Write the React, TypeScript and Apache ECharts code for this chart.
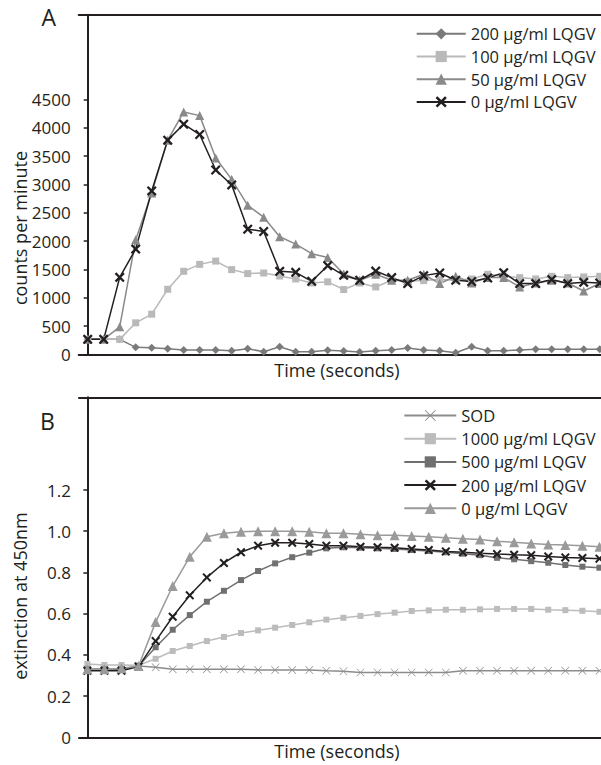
import React, { useEffect, useRef } from "react";
import * as echarts from "echarts";

// Panel A: counts per minute, 33 time points
const timeA = Array.from({ length: 33 }, (_, i) => i);
const a200 = [264,264,264,123,116,99,76,76,76,63,99,46,134,46,46,70,59,40,63,76,111,76,63,28,134,63,63,76,88,88,88,88,88];
const a100 = [264,264,264,556,709,1149,1466,1589,1647,1496,1426,1436,1383,1331,1260,1280,1144,1260,1190,1308,1290,1302,1320,1308,1331,1413,1378,1355,1331,1378,1355,1367,1378];
const a50 = [264,264,486,2024,2851,3784,4282,4217,3467,3091,2633,2422,2077,1947,1778,1710,1420,1308,1413,1308,1308,1413,1250,1378,1260,1355,1355,1190,1260,1308,1260,1119,1250];
const a0 = [264,264,1360,1859,2886,3784,4066,3883,3256,2992,2211,2170,1466,1449,1290,1566,1396,1308,1471,1355,1250,1390,1436,1308,1285,1348,1443,1250,1250,1320,1250,1272,1260];
const ticksA = [0,500,1000,1500,2000,2500,3000,3500,4000,4500];
const maxLabelA = 4500;

// Panel B: extinction at 450nm, 31 time points
const timeB = Array.from({ length: 31 }, (_, i) => i);
const bSOD = [0.33,0.33,0.33,0.346,0.34,0.33,0.33,0.33,0.33,0.33,0.327,0.327,0.327,0.327,0.323,0.32,0.315,0.315,0.315,0.315,0.315,0.315,0.323,0.323,0.323,0.323,0.323,0.323,0.323,0.323,0.323];
const b1000 = [0.356,0.351,0.351,0.35,0.381,0.419,0.443,0.467,0.487,0.506,0.519,0.532,0.545,0.558,0.571,0.58,0.589,0.598,0.605,0.613,0.616,0.619,0.619,0.621,0.623,0.623,0.623,0.619,0.617,0.614,0.609];
const b500 = [0.33,0.33,0.33,0.346,0.437,0.522,0.593,0.658,0.711,0.763,0.807,0.844,0.874,0.896,0.917,0.922,0.92,0.917,0.914,0.909,0.904,0.898,0.891,0.884,0.871,0.864,0.855,0.847,0.836,0.828,0.823];
const b200 = [0.323,0.323,0.323,0.343,0.467,0.585,0.689,0.776,0.846,0.898,0.93,0.944,0.944,0.938,0.93,0.93,0.925,0.922,0.92,0.914,0.909,0.902,0.898,0.893,0.889,0.886,0.884,0.878,0.873,0.87,0.867];
const b0 = [0.33,0.33,0.335,0.346,0.559,0.734,0.876,0.973,0.99,0.998,1.0,1.0,1.0,0.998,0.99,0.99,0.985,0.98,0.98,0.977,0.973,0.968,0.964,0.96,0.952,0.946,0.941,0.936,0.933,0.93,0.925];
const ticksB = [0, 0.2, 0.4, 0.6, 0.8, 1.0, 1.2];
const maxLabelB = 1.2;

const namesA = ["200 μg/ml LQGV", "100 μg/ml LQGV", "50 μg/ml LQGV", "0 μg/ml LQGV"];
// trailing spaces keep panel B's legend entries distinct from panel A's; trimmed for display
const namesB = ["SOD", "1000 μg/ml LQGV", "500 μg/ml LQGV", "200 μg/ml LQGV ", "0 μg/ml LQGV "];

const FONT = "Open Sans";
const INK = "#231f20";
const X_THICK = "path://M0,1.6L1.6,0L5,3.4L8.4,0L10,1.6L6.6,5L10,8.4L8.4,10L5,6.6L1.6,10L0,8.4L3.4,5Z";
const X_THIN = "path://M0,0.6L0.6,0L5,4.4L9.4,0L10,0.6L5.6,5L10,9.4L9.4,10L5,5.6L0.6,10L0,9.4L4.4,5Z";

function pairs(xs: number[], ys: number[]) {
  return xs.map((x, i) => [x, ys[i]]);
}

export default function App() {
  const ref = useRef<HTMLDivElement>(null);
  useEffect(() => {
    document.body.style.margin = "0";
    const chart = echarts.init(ref.current!, null, { renderer: "svg" });
    const axisLine = { show: true, lineStyle: { color: INK, width: 2 } };
    const mkLine = (
      name: string, xi: number, yi: number, data: number[][], color: string,
      symbol: string, size: number, width = 1.5
    ) => ({
      type: "line", name, xAxisIndex: xi, yAxisIndex: yi, data, symbol, symbolSize: size,
      showSymbol: true,
      lineStyle: { color, width }, itemStyle: { color, borderWidth: 0 },
      emphasis: { disabled: true },
    });
    const txt = (text: string, x: number, y: number, size: number, rot = 0) => ({
      type: "text", x, y, rotation: rot,
      style: { text, fontSize: size, fontFamily: FONT, fill: INK, textAlign: "center", textVerticalAlign: "middle" },
    });
    chart.setOption({
      animation: false,
      textStyle: { fontFamily: FONT, color: INK, fontSize: 17 },
      grid: [
        { left: 78.7, top: 14.7, width: 522.3, height: 339.6, outerBoundsMode: "none", containLabel: false },
        { left: 79, top: 397.3, width: 522, height: 340, outerBoundsMode: "none", containLabel: false },
      ],
      xAxis: [
        { type: "value", gridIndex: 0, min: -0.5625, max: 32.08, axisLine, axisTick: { show: false }, axisLabel: { show: false }, splitLine: { show: false } },
        { type: "value", gridIndex: 0, position: "top", min: -0.5625, max: 32.08, axisLine, axisTick: { show: false }, axisLabel: { show: false }, splitLine: { show: false } },
        { type: "value", gridIndex: 1, min: -0.49, max: 30.09, axisLine, axisTick: { show: false }, axisLabel: { show: false }, splitLine: { show: false } },
        { type: "value", gridIndex: 1, position: "top", min: -0.49, max: 30.09, axisLine, axisTick: { show: false }, axisLabel: { show: false }, splitLine: { show: false } },
      ],
      yAxis: [
        {
          type: "value", gridIndex: 0, min: 0, max: 6000, interval: 500, axisLine,
          axisTick: { show: true, length: 4, lineStyle: { color: INK, width: 1.5 }, customValues: ticksA },
          axisLabel: {
            show: true, fontSize: 17, color: INK, fontFamily: FONT, margin: 8,
            formatter: (v: number) => (v <= maxLabelA ? String(v) : ""),
          },
          splitLine: { show: false },
        },
        {
          type: "value", gridIndex: 1, min: 0, max: 1.65, interval: 0.2, axisLine,
          axisTick: { show: true, length: 4, lineStyle: { color: INK, width: 1.5 }, customValues: ticksB },
          axisLabel: {
            show: true, color: INK, margin: 8,
            formatter: (v: number) => (v > maxLabelB + 1e-9 ? "" : "{t|" + (v === 0 ? "0" : v.toFixed(1)) + "}"),
            rich: { t: { fontSize: 17, fontFamily: FONT, color: INK } },
          },
          splitLine: { show: false },
        },
      ],
      legend: [
        {
          data: namesA, orient: "vertical", left: 410.7, top: 20.3, itemWidth: 49, itemHeight: 14, itemGap: 5.7,
          textStyle: { fontSize: 16.5, lineHeight: 16, color: INK, fontFamily: FONT }, selectedMode: false,
        },
        {
          data: namesB, orient: "vertical", left: 398.3, top: 402, itemWidth: 52, itemHeight: 14, itemGap: 6.2,
          textStyle: { fontSize: 16.5, lineHeight: 16, color: INK, fontFamily: FONT }, selectedMode: false,
          formatter: (n: string) => n.trim(),
        },
      ],
      series: [
        mkLine(namesA[0], 0, 0, pairs(timeA, a200), "#7a7a7a", "diamond", 8),
        mkLine(namesA[1], 0, 0, pairs(timeA, a100), "#b9b9b9", "rect", 7),
        mkLine(namesA[2], 0, 0, pairs(timeA, a50), "#8a8a8a", "triangle", 9),
        mkLine(namesA[3], 0, 0, pairs(timeA, a0), "#231f20", X_THICK, 10),
        mkLine(namesB[0], 2, 1, pairs(timeB, bSOD), "#8c8c8c", X_THIN, 8),
        mkLine(namesB[1], 2, 1, pairs(timeB, b1000), "#bcbcbc", "rect", 6),
        mkLine(namesB[2], 2, 1, pairs(timeB, b500), "#707070", "rect", 6),
        mkLine(namesB[3], 2, 1, pairs(timeB, b200), "#231f20", X_THICK, 9),
        mkLine(namesB[4], 2, 1, pairs(timeB, b0), "#9a9a9a", "triangle", 10),
      ],
      graphic: [
        txt("A", 48.7, 17, 23),
        txt("B", 47.3, 421, 23),
        txt("counts per minute", 20, 228, 18, Math.PI / 2),
        txt("extinction at 450nm", 20, 596, 18, Math.PI / 2),
        txt("Time (seconds)", 337, 370, 18),
        txt("Time (seconds)", 337, 751, 18),
      ],
    });
    return () => chart.dispose();
  }, []);
  return <div ref={ref} style={{ width: 601, height: 765 }} />;
}
